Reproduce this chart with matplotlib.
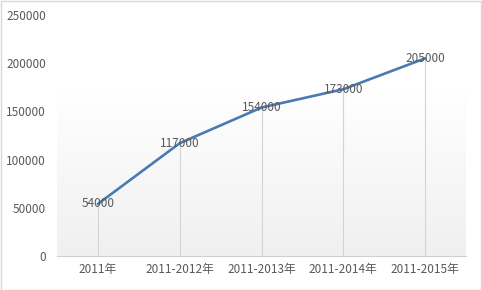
import matplotlib
matplotlib.use("Agg")
import matplotlib.pyplot as plt
import numpy as np
from matplotlib.patches import Rectangle

plt.rcParams['font.family'] = ['Noto Sans CJK SC', 'DejaVu Sans']

categories = ["2011年", "2011-2012年", "2011-2013年", "2011-2014年", "2011-2015年"]
values = [54000, 117000, 154000, 173000, 205000]
yticks = [0, 50000, 100000, 150000, 200000, 250000]

fig = plt.figure(figsize=(4.82, 2.90), dpi=100)
W, H = 482, 290
ax = fig.add_axes([57 / W, 1 - 256 / H, (466 - 57) / W, (256 - 15) / H])

x = np.arange(len(categories))

# gradient background
grad = np.linspace(0, 1, 256).reshape(-1, 1)
cmap = matplotlib.colors.LinearSegmentedColormap.from_list(
    'g', [(0, '#f0f0f0'), (0.7, '#ffffff'), (1, '#ffffff')])
ax.imshow(grad, extent=[0, 1, 0, 1], transform=ax.transAxes, aspect='auto',
          cmap=cmap, origin='lower', zorder=0)
ax.set_xlim(-0.5, len(categories) - 0.5)
ax.set_ylim(0, 250000)

# drop lines
ax.vlines(x, 0, values, colors='#d4d4d4', linewidth=0.8, zorder=1)
ax.plot(x, values, color='#4a7ab4', linewidth=1.9, zorder=3, solid_capstyle='round')

tc = '#595959'
for xi, v in zip(x, values):
    ax.text(xi, v, str(v), ha='center', va='center', fontsize=8.5, color=tc, zorder=4)

ax.set_xticks(x)
ax.set_xticklabels(categories, fontsize=8.5, color=tc)
ax.set_yticks(yticks)
ax.set_yticklabels([str(t) for t in yticks], fontsize=8.5, color=tc)
ax.tick_params(axis='both', length=0)
ax.tick_params(axis='x', pad=5)
ax.tick_params(axis='y', pad=8)
for s in ['top', 'right', 'left']:
    ax.spines[s].set_visible(False)
ax.spines['bottom'].set_color('#d0d0d0')
ax.spines['bottom'].set_linewidth(0.8)

fig.patches.append(Rectangle((0.5 / W, 0.5 / H), 1 - 1.5 / W, 1 - 1.5 / H,
                             transform=fig.transFigure, fill=False,
                             edgecolor='#d9d9d9', linewidth=1))

fig.savefig("out.png", dpi=100)
